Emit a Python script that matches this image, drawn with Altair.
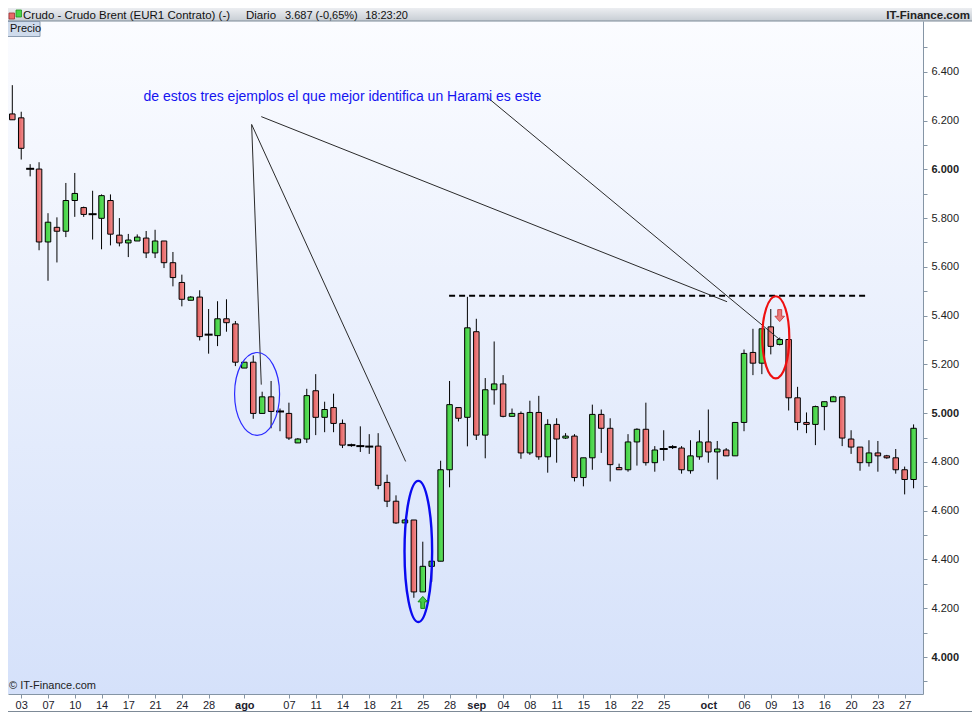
import json
import altair as alt
import pandas as pd
import numpy as np

# ---------------- data ----------------
open_ = [6.227, 6.211, 6.002, 6.001, 5.702, 5.762, 5.746, 5.872, 5.843, 5.816,
         5.799, 5.872, 5.730, 5.698, 5.706, 5.718, 5.657, 5.706, 5.617, 5.536,
         5.463, 5.476, 5.322, 5.318, 5.387, 5.366, 5.185, 5.209, 4.999, 5.067,
         5.007, 4.999, 4.878, 4.894, 5.092, 4.983, 5.023, 4.958, 4.869, 4.865,
         4.863, 4.865, 4.716, 4.639, 4.550, 4.562, 4.267, 4.372, 4.393, 4.768,
         5.023, 4.983, 5.334, 4.910, 5.096, 5.120, 4.987, 4.999, 4.837, 5.003,
         4.821, 4.954, 4.898, 4.906, 4.736, 4.817, 4.995, 4.938, 4.777, 4.768,
         4.882, 4.934, 4.797, 4.853, 4.861, 4.857, 4.764, 4.821, 4.882, 4.841,
         4.849, 4.825, 4.962, 5.249, 5.205, 5.354, 5.282, 5.302, 5.063, 4.962,
         4.954, 5.027, 5.047, 5.067, 4.894, 4.861, 4.797, 4.837, 4.825, 4.817,
         4.768, 4.728]
high = [6.345, 6.236, 6.021, 6.029, 5.820, 5.803, 5.944, 5.985, 5.847, 5.912,
        5.897, 5.897, 5.800, 5.735, 5.733, 5.747, 5.752, 5.706, 5.661, 5.568,
        5.480, 5.504, 5.427, 5.459, 5.467, 5.378, 5.209, 5.237, 5.088, 5.132,
        5.019, 5.043, 4.898, 5.100, 5.160, 5.047, 5.080, 4.974, 4.875, 4.946,
        4.914, 4.918, 4.748, 4.663, 4.566, 4.562, 4.473, 4.393, 4.805, 5.132,
        5.023, 5.477, 5.387, 5.144, 5.294, 5.156, 5.019, 5.007, 5.051, 5.071,
        4.975, 4.979, 4.918, 4.914, 4.817, 5.035, 5.015, 4.979, 4.793, 4.914,
        4.938, 5.043, 4.865, 4.930, 4.869, 4.865, 4.889, 4.930, 5.015, 4.886,
        4.857, 4.962, 5.261, 5.346, 5.346, 5.427, 5.310, 5.302, 5.108, 5.003,
        5.031, 5.047, 5.071, 5.067, 4.930, 4.861, 4.889, 4.886, 4.829, 4.853,
        4.781, 4.954]
low = [6.203, 6.040, 5.971, 5.668, 5.543, 5.618, 5.722, 5.805, 5.805, 5.712,
       5.672, 5.688, 5.684, 5.640, 5.706, 5.636, 5.636, 5.595, 5.520, 5.438,
       5.463, 5.298, 5.244, 5.275, 5.334, 5.193, 5.185, 4.977, 4.999, 4.938,
       4.926, 4.890, 4.878, 4.878, 4.910, 4.922, 4.922, 4.857, 4.862, 4.841,
       4.833, 4.688, 4.615, 4.546, 4.550, 4.243, 4.267, 4.308, 4.393, 4.696,
       4.966, 4.864, 4.890, 4.815, 5.035, 4.983, 4.987, 4.813, 4.829, 4.809,
       4.756, 4.797, 4.894, 4.720, 4.700, 4.768, 4.837, 4.720, 4.768, 4.760,
       4.785, 4.785, 4.760, 4.805, 4.853, 4.752, 4.752, 4.809, 4.797, 4.728,
       4.825, 4.825, 4.926, 5.156, 5.160, 5.241, 5.278, 5.011, 4.930, 4.918,
       4.869, 4.930, 5.047, 4.865, 4.833, 4.764, 4.781, 4.760, 4.813, 4.752,
       4.667, 4.692]
close = [6.203, 6.086, 6.002, 5.702, 5.783, 5.746, 5.872, 5.901, 5.815, 5.816,
         5.892, 5.734, 5.698, 5.710, 5.722, 5.657, 5.706, 5.617, 5.556, 5.467,
         5.476, 5.314, 5.322, 5.387, 5.371, 5.209, 5.209, 4.999, 5.067, 5.007,
         5.007, 4.898, 4.894, 5.072, 4.983, 5.015, 4.958, 4.869, 4.869, 4.865,
         4.863, 4.704, 4.639, 4.550, 4.562, 4.267, 4.372, 4.393, 4.768, 5.035,
         4.979, 5.350, 4.910, 5.096, 5.120, 4.987, 4.999, 4.837, 5.003, 4.821,
         4.954, 4.894, 4.906, 4.736, 4.817, 4.995, 4.938, 4.789, 4.768, 4.882,
         4.934, 4.797, 4.849, 4.853, 4.861, 4.768, 4.825, 4.882, 4.841, 4.853,
         4.825, 4.962, 5.245, 5.205, 5.346, 5.274, 5.302, 5.063, 4.962, 4.954,
         5.027, 5.047, 5.067, 4.898, 4.861, 4.797, 4.837, 4.825, 4.817, 4.768,
         4.728, 4.938]

tick_idx = [1, 4, 7, 10, 13, 16, 19, 22, 26, 31, 34, 37, 40, 43, 46, 49, 52,
            55, 58, 61, 64, 67, 70, 73, 78, 82, 85, 88, 91, 94, 97, 100]
tick_lab = ["03", "07", "10", "14", "17", "21", "24", "28", "ago", "07", "11",
            "14", "18", "21", "25", "28", "sep", "04", "08", "11", "15", "18",
            "22", "25", "oct", "06", "09", "13", "16", "20", "23", "27"]
month_idx = [26, 52, 78]
y_ticks = [round(3.9 + 0.1 * k, 1) for k in range(27)]

# annotations (data coordinates: candle index, price)
note_text = ["de estos tres ejemplos el que mejor identifica un Harami es este"]
note_x = [14.71]
note_y = [6.297]
line_x1 = [26.82, 26.82, 27.90, 53.17]
line_y1 = [6.184, 6.184, 6.216, 6.297]
line_x2 = [27.90, 44.08, 80.10, 86.09]
line_y2 = [5.117, 4.802, 5.457, 5.299]
res_x = [48.95]
res_x2 = [95.95]
res_y = [5.481]
ell_x = [27.43, 45.50, 85.56]
ell_y = [5.079, 4.433, 5.311]
arrow_x = [46, 86]
arrow_y = [4.224, 5.400]
arrow_dir = ["up", "down"]

# ---------------- geometry / styles ----------------
W, H = 915, 673
TOP, BOTTOM, RIGHT = 13, 18, 49
STEP = 9.022          # px per candle
X0 = -0.7             # px of candle 0
xd0 = -X0 / STEP
xd1 = xd0 + W / STEP
PPU = 247.5
yd1 = 5 + (417 - 19) / PPU
yd0 = 5 - (702 - 417) / PPU
xs = alt.Scale(domain=[xd0, xd1], nice=False, zero=False)
ys = alt.Scale(domain=[yd0, yd1], nice=False, zero=False)
FONT = "Liberation Sans"
AX = "#8595a5"

df = pd.DataFrame({"i": np.arange(len(open_)), "open": open_, "high": high,
                   "low": low, "close": close})
df["dir"] = np.where(df.close > df.open, "up",
                     np.where(df.close < df.open, "down", "doji"))
dummy = pd.DataFrame({"k": [0]})


def lgrad(c0, c1, horizontal=True):
    return alt.LinearGradient(
        gradient="linear",
        stops=[alt.GradientStop(offset=0, color=c0), alt.GradientStop(offset=1, color=c1)],
        x1=0, y1=0, x2=1 if horizontal else 0, y2=0 if horizontal else 1)


def prect(x, x2, y, y2, **kw):
    return alt.Chart(dummy).mark_rect(**kw).encode(
        x=alt.value(x), x2=alt.value(x2), y=alt.value(y), y2=alt.value(y2))


def ptext(txt, x, y, align="left", baseline="alphabetic", **kw):
    return alt.Chart(dummy).mark_text(text=txt, align=align, baseline=baseline,
                                      font=FONT, **kw).encode(
        x=alt.value(x), y=alt.value(y))


def prule(x, x2, y, y2, **kw):
    return alt.Chart(dummy).mark_rule(**kw).encode(
        x=alt.value(x), x2=alt.value(x2), y=alt.value(y), y2=alt.value(y2))


def ellipse_path(a):
    k = 0.5523
    return (f"M0,-1 C{k*a:.4f},-1 {a:.4f},{-k:.4f} {a:.4f},0 "
            f"C{a:.4f},{k:.4f} {k*a:.4f},1 0,1 "
            f"C{-k*a:.4f},1 {-a:.4f},{k:.4f} {-a:.4f},0 "
            f"C{-a:.4f},{-k:.4f} {-k*a:.4f},-1 0,-1 Z")


UP_ARROW = "M0,-1 L0.8,-0.1 L0.33,-0.1 L0.33,1 L-0.33,1 L-0.33,-0.1 L-0.8,-0.1 Z"
DOWN_ARROW = "M0,1 L0.8,0.1 L0.33,0.1 L0.33,-1 L-0.33,-1 L-0.33,0.1 L-0.8,0.1 Z"

lab_expr = "%s[indexof(%s, datum.value)]" % (json.dumps(tick_lab), json.dumps(tick_idx))
mon_test = "indexof(%s, datum.value) >= 0" % json.dumps(month_idx)

x_axis = alt.Axis(values=tick_idx, labelExpr=lab_expr, title=None, grid=False,
                  tickSize=4, labelPadding=1, labelFlush=False, labelOverlap=False,
                  labelFont=FONT, labelColor="#1c1c2c", labelFontSize=11,
                  labelFontWeight=alt.ExprRef(expr=mon_test + " ? 'bold' : 'normal'"),
                  domainColor=AX, tickColor=AX, orient="bottom")
y_axis = alt.Axis(values=y_ticks, orient="right", title=None, grid=False,
                  tickSize=4, labelPadding=4, labelOverlap=False, labelFont=FONT,
                  labelFontSize=11, labelColor="#222222",
                  labelExpr="round(datum.value*10) % 2 == 0 ? format(datum.value, '.3f') : ''",
                  labelFontWeight=alt.ExprRef(
                      expr="abs(datum.value - round(datum.value)) < 0.001 ? 'bold' : 'normal'"),
                  domainColor=AX, tickColor=AX)


def X(field):
    return alt.X(field, scale=xs, axis=x_axis)


def Y(field):
    return alt.Y(field, scale=ys, axis=y_axis)


base = alt.Chart(df)

# ---------------- layers ----------------
bg = prect(0, W, 0, H, fill=lgrad("#fbfcff", "#d5e1fa", horizontal=False))

wicks = base.mark_rule(color="black", strokeWidth=1).encode(
    x=X("i:Q"), y=Y("low:Q"), y2="high:Q")

up = base.transform_filter("datum.dir == 'up'").mark_bar(
    size=5.5, fill=lgrad("#3fcf3f", "#62e062"), stroke="black", strokeWidth=1).encode(
    x=X("i:Q"), y=Y("open:Q"), y2="close:Q")

down = base.transform_filter("datum.dir == 'down'").mark_bar(
    size=5.5, fill=lgrad("#e05a5a", "#f39292"), stroke="black", strokeWidth=1).encode(
    x=X("i:Q"), y=Y("open:Q"), y2="close:Q")

doji = base.transform_filter("datum.dir == 'doji'").mark_tick(
    orient="horizontal", size=8, thickness=2, color="black", opacity=1).encode(
    x=X("i:Q"), y=Y("open:Q"))

note = alt.Chart(pd.DataFrame({"x": note_x, "y": note_y, "t": note_text})).mark_text(
    align="left", baseline="middle", font=FONT, fontSize=14, color="#1414f0").encode(
    x=X("x:Q"), y=Y("y:Q"), text="t:N")

res = alt.Chart(pd.DataFrame({"x": res_x, "x2": res_x2, "y": res_y})).mark_rule(
    color="black", strokeWidth=2, strokeDash=[6, 4]).encode(
    x=X("x:Q"), x2="x2:Q", y=Y("y:Q"))

lines = alt.Chart(pd.DataFrame({"x": line_x1, "y": line_y1, "x2": line_x2, "y2": line_y2})).mark_rule(
    color="#2a2a2a", strokeWidth=1).encode(
    x=X("x:Q"), x2="x2:Q", y=Y("y:Q"), y2="y2:Q")

ell_rx = [22.5, 13.8, 13.5]
ell_ry = [41.4, 70.6, 41.1]
ell_df = pd.DataFrame({
    "x": ell_x, "y": ell_y,
    "shape": [ellipse_path(a / b) for a, b in zip(ell_rx, ell_ry)],
    "size": [(2 * b) ** 2 for b in ell_ry],
    "col": ["#2a2aff", "#0a0af0", "#ee1010"],
    "sw": [1.2, 2.4, 2.2]})
ellipses = alt.Chart(ell_df).mark_point(filled=False, opacity=1).encode(
    x=X("x:Q"), y=Y("y:Q"),
    shape=alt.Shape("shape:N", scale=None, legend=None),
    size=alt.Size("size:Q", scale=None, legend=None),
    color=alt.Color("col:N", scale=None, legend=None),
    strokeWidth=alt.StrokeWidth("sw:Q", scale=None, legend=None))

arr_df = pd.DataFrame({
    "x": arrow_x, "y": arrow_y,
    "shape": [UP_ARROW if d == "up" else DOWN_ARROW for d in arrow_dir],
    "fill": ["#45cc45" if d == "up" else "#ec7878" for d in arrow_dir],
    "stroke": ["#128a12" if d == "up" else "#c84848" for d in arrow_dir]})
arrows = alt.Chart(arr_df).mark_point(filled=True, opacity=1, size=144, strokeWidth=1).encode(
    x=X("x:Q"), y=Y("y:Q"),
    shape=alt.Shape("shape:N", scale=None, legend=None),
    fill=alt.Fill("fill:N", scale=None, legend=None),
    stroke=alt.Stroke("stroke:N", scale=None, legend=None))

# header / frame decorations (pixel positions relative to plot origin)
header = prect(-8, 972, -TOP, 0, fill=lgrad("#eceef1", "#c7cdd4", horizontal=False))
header_line = prule(-8, 972, 0, 0, color="#7d8a97", strokeWidth=1)
icon_r = prect(1, 6.5, -8, -2, fill="#e86a6a", stroke="#a03030", strokeWidth=0.8)
icon_g = prect(8, 13.5, -11, -4, fill="#48d648", stroke="#1f8f1f", strokeWidth=0.8)
TY = -2.5
h1 = ptext("Crudo - Crudo Brent (EUR1 Contrato) (-)", 15, TY, fontSize=11.5, color="#111111")
h2 = ptext("Diario", 238, TY, fontSize=11.5, color="#111111")
h3 = ptext("3.687 (-0,65%)", 277, TY, fontSize=11, color="#111111")
h4 = ptext("18:23:20", 400, TY, align="right", fontSize=11, color="#111111")
h5 = ptext("IT-Finance.com", 962, TY, align="right", fontSize=11.5, fontWeight="bold",
           color="#222222")
precio_box = prect(-1, 32, 0.5, 15.5, fill="#cfdbec", stroke="#8a9bb0", strokeWidth=1)
precio = ptext("Precio", 2, 8, baseline="middle", fontSize=11, color="#111111")
copy_txt = ptext("© IT-Finance.com", 1, 668, fontSize=11, color="#222222")
bottom_line = prule(-8, 972, H + BOTTOM - 0.5, H + BOTTOM - 0.5, color="#7d8a97", strokeWidth=1)

chart = alt.layer(
    bg, header, header_line, icon_r, icon_g, h1, h2, h3, h4, h5,
    res, wicks, up, down, doji, lines, ellipses, arrows, note,
    precio_box, precio, copy_txt, bottom_line
).properties(
    width=W, height=H,
    padding={"left": 0, "top": TOP, "right": RIGHT, "bottom": BOTTOM},
    autosize=alt.AutoSizeParams(type="none"),
    background="white"
).configure_view(stroke=None)

chart.save("out.html", embed_options={"renderer": "svg", "actions": False})
